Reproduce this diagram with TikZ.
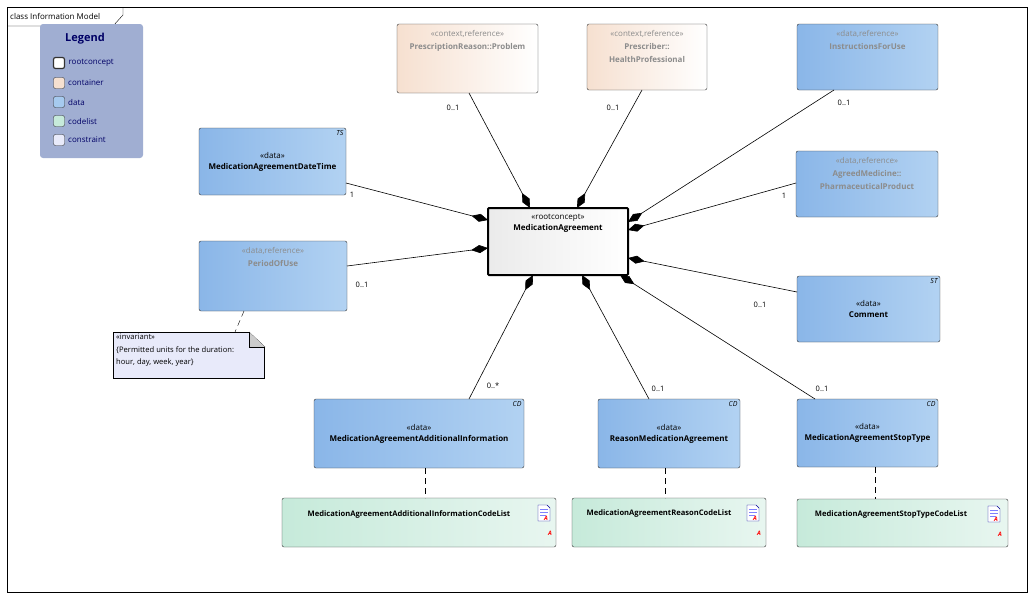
\documentclass[tikz,border=0pt]{standalone}
\usepackage{fontspec}
\setmainfont{Open Sans}
\usetikzlibrary{arrows.meta,shapes.misc}
\definecolor{dataL}{HTML}{8AB6E8}
\definecolor{dataR}{HTML}{B2D2F2}
\definecolor{contL}{HTML}{F6E0D0}
\definecolor{codeL}{HTML}{C6EADA}
\definecolor{codeR}{HTML}{E8F6F0}
\definecolor{legbg}{HTML}{A0AED2}
\definecolor{notebg}{HTML}{E8EAFA}
\definecolor{refgray}{HTML}{8C8C8C}
\begin{document}
\begin{tikzpicture}[x=1pt, y=-1pt,
    font=\fontsize{8}{11}\selectfont,
    box/.style={draw=black!80, rounded corners=2pt, inner sep=0pt, align=center},
    data/.style={box, left color=dataL, right color=dataR},
    cont/.style={box, left color=contL, right color=white},
    code/.style={box, left color=codeL, right color=codeR},
    reftext/.style={text=refgray, align=center, anchor=north, inner sep=0pt, font=\fontsize{8}{13}\selectfont},
    tag/.style={anchor=north east, font=\fontsize{7}{8}\itshape, inner sep=2.5pt},
    mult/.style={font=\fontsize{7.5}{8}\selectfont, inner sep=1pt},
    comp/.style={{Diamond[length=17pt,width=8pt]}-, line width=0.6pt},
    link/.style={dash pattern=on 6pt off 4pt},
    legsq/.style={draw=black!80, rounded corners=2pt, minimum size=11pt, inner sep=0pt}]
    \useasboundingbox (0,0) rectangle (1035,597);

    % frame
    \draw [black] (7,7) rectangle (1027,592);
    \draw [black] (7,26) -- (113,26) -- (123,15) -- (123,7);
    \node [anchor=west, inner sep=0pt] (title) at (10,16) {class Information Model};

    % legend
    \node [fill=legbg, rounded corners=3pt, minimum width=103pt, minimum height=134pt] (legend) at (91.5,91) {};
    \node [text=blue!40!black, font=\fontsize{11}{12}\bfseries] (legtitle) at (85,39) {Legend};
    \node [legsq, fill=white, line width=1.2pt] (l1) at (59,63) {};
    \node [legsq, fill=contL] (l2) at (59,83) {};
    \node [legsq, fill=dataR!70!dataL] (l3) at (59,102) {};
    \node [legsq, fill=codeL] (l4) at (59,121) {};
    \node [legsq, fill=notebg] (l5) at (59,140) {};
    \node [anchor=west, text=blue!40!black] (lt1) at (l1.east) {rootconcept};
    \node [anchor=west, text=blue!40!black] (lt2) at (l2.east) {container};
    \node [anchor=west, text=blue!40!black] (lt3) at (l3.east) {data};
    \node [anchor=west, text=blue!40!black] (lt4) at (l4.east) {codelist};
    \node [anchor=west, text=blue!40!black] (lt5) at (l5.east) {constraint};

    % root concept
    \node [box, draw=black, line width=2pt, rounded corners=1pt, left color=black!8, right color=white,
           minimum width=140pt, minimum height=67pt] (MA) at (558,241.5) {};
    \node [anchor=north, align=center, inner sep=0pt] (MAt) at (558,214) {«rootconcept»\\\textbf{MedicationAgreement}};

    % containers and references
    \node [cont, minimum width=141pt, minimum height=69pt] (PR) at (467.5,58.5) {};
    \node [reftext] (PRt) at (467.5,30) {«context,reference»\\\textbf{PrescriptionReason::Problem}};
    \node [cont, minimum width=120pt, minimum height=66pt] (PS) at (647,57) {};
    \node [reftext] (PSt) at (647,30) {«context,reference»\\\textbf{Prescriber::}\\\textbf{HealthProfessional}};
    \node [data, minimum width=141pt, minimum height=66pt] (IU) at (867.5,57) {};
    \node [reftext] (IUt) at (867.5,30) {«data,reference»\\\textbf{InstructionsForUse}};
    \node [data, minimum width=142pt, minimum height=66pt] (AM) at (867,184) {};
    \node [reftext] (AMt) at (867,157) {«data,reference»\\\textbf{AgreedMedicine::}\\\textbf{PharmaceuticalProduct}};
    \node [data, minimum width=148pt, minimum height=70pt] (PU) at (273,276) {};
    \node [reftext] (PUt) at (273,247) {«data,reference»\\\textbf{PeriodOfUse}};

    % data types
    \node [data, minimum width=147pt, minimum height=67pt] (DT) at (272.5,161.5) {«data»\\\textbf{MedicationAgreementDateTime}};
    \node [tag] at (DT.north east) {TS};
    \node [data, minimum width=143pt, minimum height=66pt] (CM) at (868.5,309) {«data»\\\textbf{Comment}};
    \node [tag] at (CM.north east) {ST};
    \node [data, minimum width=210pt, minimum height=69pt] (AI) at (419,433.5) {«data»\\\textbf{MedicationAgreementAdditionalInformation}};
    \node [tag] at (AI.north east) {CD};
    \node [data, minimum width=142pt, minimum height=69pt] (RM) at (669,433.5) {«data»\\\textbf{ReasonMedicationAgreement}};
    \node [tag] at (RM.north east) {CD};
    \node [data, minimum width=141pt, minimum height=68pt] (ST) at (867.5,433) {«data»\\\textbf{MedicationAgreementStopType}};
    \node [tag] at (ST.north east) {CD};

    % code lists
    \node [code, minimum width=274pt, minimum height=49pt] (AIC) at (419,522.5) {};
    \node [code, minimum width=194pt, minimum height=49pt] (RMC) at (669,522.5) {};
    \node [code, minimum width=211pt, minimum height=48pt] (STC) at (902.5,523) {};
    \node [font=\fontsize{7.6}{9}\bfseries] (AICt) at (409,514) {MedicationAgreementAdditionalInformationCodeList};
    \node [font=\fontsize{7.6}{9}\bfseries] (RMCt) at (659,514) {MedicationAgreementReasonCodeList};
    \node [font=\fontsize{7.6}{9}\bfseries] (STCt) at (891,515) {MedicationAgreementStopTypeCodeList};
    \foreach \x/\y in {544/513, 753/513, 994/514} {
      \draw [blue!60!black, fill=white] (\x-6,\y-8) -- (\x+3,\y-8) -- (\x+6,\y-5) -- (\x+6,\y+8) -- (\x-6,\y+8) -- cycle;
      \draw [blue!50] (\x-4,\y-4) -- (\x+4,\y-4) (\x-4,\y-1) -- (\x+4,\y-1) (\x-4,\y+2) -- (\x+2,\y+2);
      \node [text=red, font=\fontsize{6}{7}\itshape\bfseries, inner sep=0pt] at (\x+2,\y+5) {A};
      \node [text=red, font=\fontsize{6}{7}\itshape\bfseries, inner sep=0pt] at (\x+6,\y+20) {A};
    }

    % constraint note
    \node [draw=black, fill=notebg, minimum width=151pt, minimum height=46pt] (NT) at (188.5,355) {};
    \fill [white] (249,332) -- (265,332) -- (265,347) -- cycle;
    \draw [black] (249,332) -- (265,347);
    \draw [black, fill=black!20] (249,332) -- (249,347) -- (265,347);
    \node [anchor=north west, align=left, inner sep=0pt, font=\fontsize{7.6}{12.5}\selectfont] (NTt) at (116,334)
      {«invariant»\\\{Permitted units for the duration:\\hour, day, week, year\}};

    % compositions
    \draw [comp] (530,208) -- (469,93);
    \draw [comp] (577,208) -- (642,90);
    \draw [comp] (628,222) -- (834,90);
    \draw [comp] (628,230) -- (796,183);
    \draw [comp] (488,220) -- (346,183);
    \draw [comp] (488,248) -- (347,266);
    \draw [comp] (628,258) -- (797,292);
    \draw [comp] (533,275) -- (469,399);
    \draw [comp] (582,275) -- (649,399);
    \draw [comp] (620,275) -- (815,399);

    % dashed links
    \draw [link] (244,311) -- (235,332);
    \draw [link] (425,468) -- (425,498);
    \draw [link] (665,468) -- (665,498);
    \draw [link] (875,467) -- (875,499);

    % multiplicities
    \node [mult] at (453,108) {0..1};
    \node [mult] at (613,108) {0..1};
    \node [mult] at (844,103) {0..1};
    \node [mult] at (784,196) {1};
    \node [mult] at (352,195) {1};
    \node [mult] at (362,285) {0..1};
    \node [mult] at (760,305) {0..1};
    \node [mult] at (493,386) {0..*};
    \node [mult] at (658,389) {0..1};
    \node [mult] at (822,389) {0..1};
\end{tikzpicture}
\end{document}
